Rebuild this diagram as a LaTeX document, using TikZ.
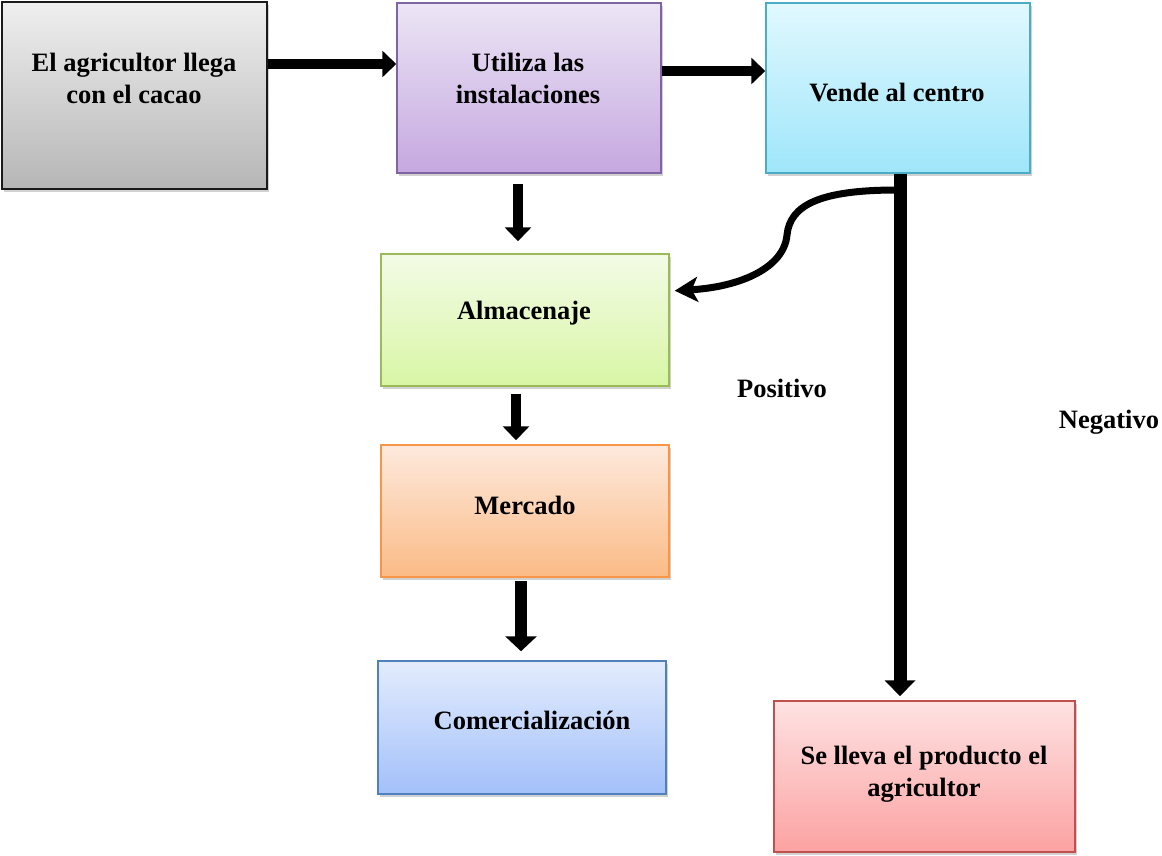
\documentclass[tikz,border=0pt]{standalone}
\usepackage{fontspec}
\setmainfont{Liberation Serif}
\usetikzlibrary{arrows.meta,shadows}

\definecolor{grayT}{HTML}{EFEFEF}\definecolor{grayB}{HTML}{B6B6B6}\definecolor{grayL}{HTML}{1A1A1A}
\definecolor{purT}{HTML}{ECE5F5}\definecolor{purB}{HTML}{C5A8E0}\definecolor{purL}{HTML}{8064A2}
\definecolor{cyaT}{HTML}{E1F8FE}\definecolor{cyaB}{HTML}{9FE6FB}\definecolor{cyaL}{HTML}{4BACC6}
\definecolor{grnT}{HTML}{F3FBE6}\definecolor{grnB}{HTML}{D8F6A5}\definecolor{grnL}{HTML}{9BBB59}
\definecolor{orgT}{HTML}{FDE9DC}\definecolor{orgB}{HTML}{FBBB86}\definecolor{orgL}{HTML}{F79646}
\definecolor{bluT}{HTML}{E3ECFD}\definecolor{bluB}{HTML}{A3C0FA}\definecolor{bluL}{HTML}{4F81BD}
\definecolor{redT}{HTML}{FEE2E2}\definecolor{redB}{HTML}{FCA2A2}\definecolor{redL}{HTML}{C0504D}

\tikzset{
  box/.style={rectangle, inner sep=0pt, line width=1.5pt,
    drop shadow={shadow xshift=2pt, shadow yshift=-3pt, opacity=0.3, fill=black!60}},
  txt/.style={align=center, inner sep=0pt, font=\bfseries\fontsize{26.5}{32}\selectfont},
  flow/.style={line width=10pt, -{Triangle[width=26pt,length=14pt]}},
}

\begin{document}
\begin{tikzpicture}[x=1pt, y=-1pt]
\useasboundingbox (0,0) rectangle (1162,856);

% process boxes
\node[box, draw=grayL, line width=2pt, top color=grayT, bottom color=grayB,
      minimum width=265pt, minimum height=187pt] (A) at (134.5,95.5) {};
\node[box, draw=purL, top color=purT, bottom color=purB,
      minimum width=264pt, minimum height=170pt] (B) at (529,88) {};
\node[box, draw=cyaL, top color=cyaT, bottom color=cyaB,
      minimum width=264pt, minimum height=170pt] (C) at (898,88) {};
\node[box, draw=grnL, top color=grnT, bottom color=grnB,
      minimum width=288pt, minimum height=132pt] (D) at (525,320) {};
\node[box, draw=orgL, top color=orgT, bottom color=orgB,
      minimum width=288pt, minimum height=132pt] (E) at (525,511) {};
\node[box, draw=bluL, top color=bluT, bottom color=bluB,
      minimum width=288pt, minimum height=133pt] (F) at (522,727.5) {};
\node[box, draw=redL, top color=redT, bottom color=redB,
      minimum width=301pt, minimum height=151pt] (G) at (924.5,776.5) {};

% box texts
\node[txt] (tA) at (134,78) {El agricultor llega\\con el cacao};
\node[txt] (tB) at (528,78) {Utiliza las\\instalaciones};
\node[txt] (tC) at (897,93) {Vende al centro};
\node[txt] (tD) at (524,313) {Almacenaje};
\node[txt] (tE) at (525,505) {Mercado};
\node[txt] (tF) at (532,720) {Comercialización};
\node[txt] (tG) at (924,774) {Se lleva el producto el\\agricultor};

% branch labels
\node[txt] (pos) at (782,388) {Positivo};
\node[txt] (neg) at (1109,422) {Negativo};

% connectors
\draw[flow] (A.east |- 0,64) -- (B.west |- 0,64);
\draw[flow] (B.east |- 0,71) -- (C.west |- 0,71);
\draw[flow, shorten <=10pt, shorten >=12pt] (B.south -| 518,0) -- (D.north -| 518,0);
\draw[flow, shorten <=7pt, shorten >=4pt] (D.south -| 516,0) -- (E.north -| 516,0);
\draw[flow, line width=12pt, -{Triangle[width=31pt,length=15pt]}, shorten <=3pt, shorten >=9pt]
  (E.south -| 521,0) -- (F.north -| 521,0);
\draw[flow, line width=13pt, -{Triangle[width=30pt,length=16pt]}, shorten >=4pt]
  (C.south -| 900,0) -- (G.north -| 900,0);

% positive branch back to storage
\coordinate (fork) at (897,190);
\draw[line width=7pt, -{Stealth[width=25pt,length=23pt,inset=6pt]}, shorten >=5pt]
  (fork) .. controls (820,190) and (790,205) .. (787,235)
         .. controls (784,268) and (740,287) .. (D.east |- 0,291);
\end{tikzpicture}
\end{document}
